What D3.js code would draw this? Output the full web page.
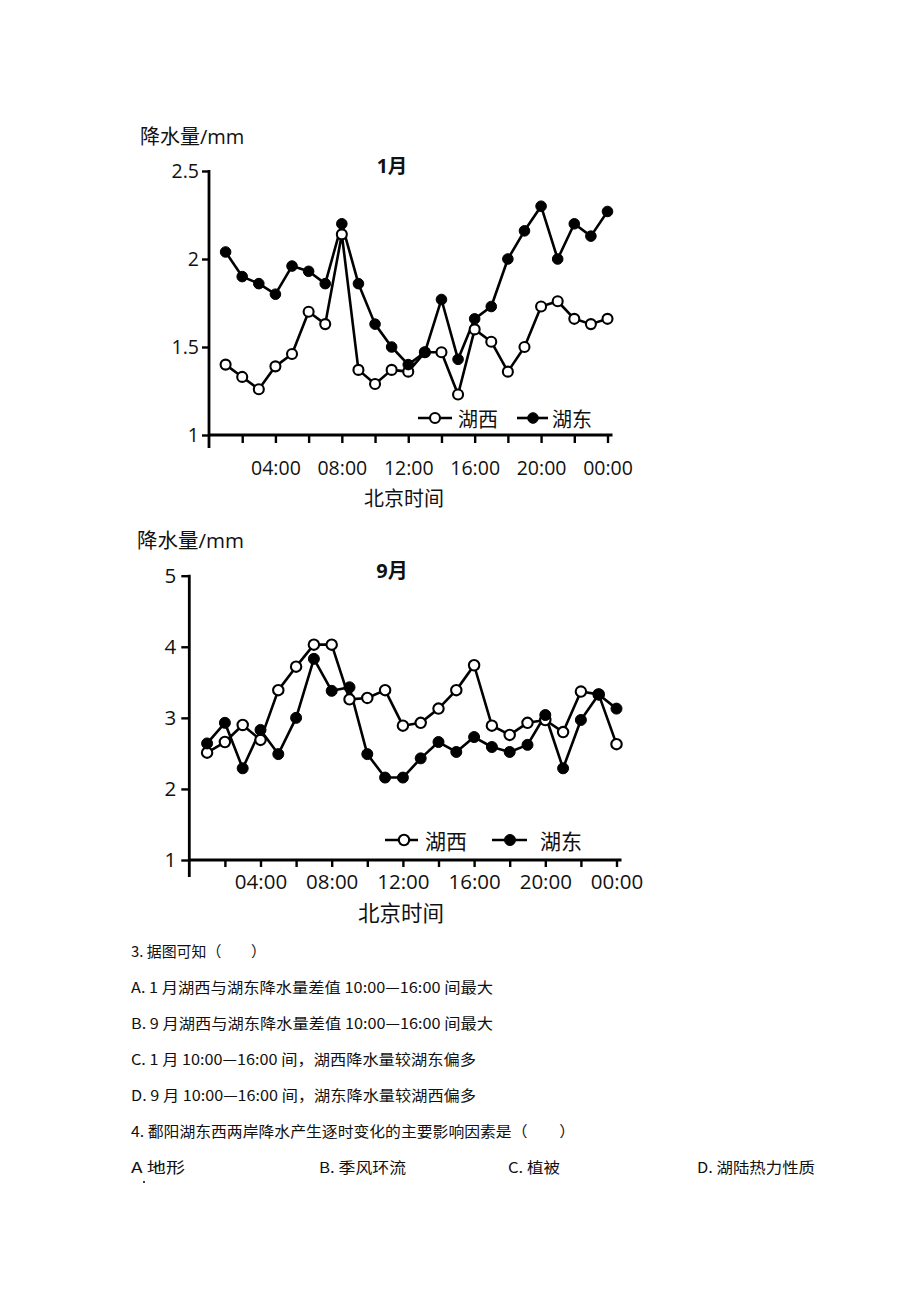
<!DOCTYPE html>
<html><head><meta charset="utf-8">
<script src="https://cdn.jsdelivr.net/npm/d3@7"></script>
<style>
body{margin:0;background:#fff;}
svg text{fill:#111;}
</style></head>
<body>
<svg id="chart" width="920" height="1302"></svg>
<script>
const hours = [1,2,3,4,5,6,7,8,9,10,11,12,13,14,15,16,17,18,19,20,21,22,23,24];
const janWest = [1.40,1.33,1.26,1.39,1.46,1.70,1.63,2.14,1.37,1.29,1.37,1.36,1.47,1.47,1.23,1.60,1.53,1.36,1.50,1.73,1.76,1.66,1.63,1.66];
const janEast = [2.04,1.90,1.86,1.80,1.96,1.93,1.86,2.20,1.86,1.63,1.50,1.40,1.47,1.77,1.43,1.66,1.73,2.00,2.16,2.30,2.00,2.20,2.13,2.27];
const sepWest = [2.51,2.66,2.90,2.69,3.39,3.72,4.03,4.03,3.26,3.28,3.39,2.89,2.93,3.13,3.39,3.74,2.89,2.76,2.93,2.97,2.80,3.37,3.33,2.63];
const sepEast = [2.64,2.93,2.29,2.83,2.49,3.00,3.83,3.38,3.43,2.49,2.16,2.16,2.43,2.66,2.52,2.73,2.59,2.52,2.62,3.04,2.29,2.97,3.33,3.13];
const xTickHours = [2,4,6,8,10,12,14,16,18,20,22,24];
const xTickLabels = {4:"04:00",8:"08:00",12:"12:00",16:"16:00",20:"20:00",24:"00:00"};
const janYTicks = [1,1.5,2,2.5];
const sepYTicks = [1,2,3,4,5];
const seriesNames = ["湖西","湖东"];
const janTitle = "1月", sepTitle = "9月";
const yAxisTitle = "降水量/mm", xAxisTitle = "北京时间";
const questionLines = [
  "3. 据图可知（　　）",
  "A. 1 月湖西与湖东降水量差值 10:00—16:00 间最大",
  "B. 9 月湖西与湖东降水量差值 10:00—16:00 间最大",
  "C. 1 月 10:00—16:00 间，湖西降水量较湖东偏多",
  "D. 9 月 10:00—16:00 间，湖东降水量较湖西偏多",
  "4. 鄱阳湖东西两岸降水产生逐时变化的主要影响因素是（　　）"
];
const options = ["A  地形","B.  季风环流","C.  植被","D.  湖陆热力性质"];

const svg = d3.select("#chart");
const SANS = "'Open Sans','Noto Sans CJK SC',sans-serif";
const CJK = "'Noto Sans CJK SC','Noto Sans',sans-serif";

function drawChart(c){
  const g = svg.append("g");
  const x = d3.scaleLinear().domain([0,24]).range([c.x0, c.x24]);
  const y = d3.scaleLinear().domain([c.ymin,c.ymax]).range([c.yBottom,c.yTop]);

  const xa = d3.axisBottom(x).tickValues(xTickHours)
    .tickFormat(d => xTickLabels[d] || "").tickSize(c.xTick).tickSizeOuter(0).tickPadding(c.xPad);
  const gx = g.append("g").attr("transform",`translate(0,${c.yBottom})`).call(xa);
  gx.select(".domain").remove();
  gx.selectAll(".tick line").attr("stroke","#000").attr("stroke-width",2.4);
  gx.selectAll(".tick text").attr("font-family",SANS).attr("font-size",c.xFont).attr("fill","#111");

  const ya = d3.axisLeft(y).tickValues(c.yTicks).tickFormat(d=>String(d))
    .tickSize(c.yTickLen).tickSizeOuter(0).tickPadding(c.yPad);
  const gy = g.append("g").attr("transform",`translate(${c.x0},0)`).call(ya);
  gy.select(".domain").remove();
  gy.selectAll(".tick line").attr("stroke","#000").attr("stroke-width",2.4);
  gy.selectAll(".tick text").attr("font-family",SANS).attr("font-size",c.yFont).attr("fill","#111");

  g.append("line").attr("x1",c.x0).attr("x2",c.x0).attr("y1",c.yTop-1).attr("y2",c.yBottom+c.yExt)
    .attr("stroke","#000").attr("stroke-width",2.8);
  g.append("line").attr("x1",c.x0).attr("x2",x(24)+5).attr("y1",c.yBottom).attr("y2",c.yBottom)
    .attr("stroke","#000").attr("stroke-width",2.8);

  const line = d3.line().x((d,i)=>x(hours[i])).y(d=>y(d));
  g.append("path").datum(c.west).attr("d",line).attr("fill","none").attr("stroke","#000").attr("stroke-width",2.6).attr("stroke-linejoin","round");
  g.append("path").datum(c.east).attr("d",line).attr("fill","none").attr("stroke","#000").attr("stroke-width",2.6).attr("stroke-linejoin","round");
  g.selectAll(".w").data(c.west).enter().append("circle")
    .attr("cx",(d,i)=>x(hours[i])).attr("cy",d=>y(d)).attr("r",c.r)
    .attr("fill","#fff").attr("stroke","#000").attr("stroke-width",2.1);
  g.selectAll(".e").data(c.east).enter().append("circle")
    .attr("cx",(d,i)=>x(hours[i])).attr("cy",d=>y(d)).attr("r",c.r+0.3)
    .attr("fill","#000").attr("stroke","#000").attr("stroke-width",1);

  g.append("text").attr("x",c.ytX).attr("y",c.ytY).attr("font-family",SANS).attr("font-size",c.ytFont).text(yAxisTitle);
  g.append("text").attr("x",c.tX).attr("y",c.tY).attr("text-anchor","middle").attr("font-family",SANS)
    .attr("font-weight","bold").attr("font-size",c.tFont).text(c.title);
  g.append("text").attr("x",c.xtX).attr("y",c.xtY).attr("text-anchor","middle").attr("font-family",CJK)
    .attr("font-size",c.xtFont).text(xAxisTitle);

  c.legend.forEach((L,k)=>{
    g.append("line").attr("x1",L.l1).attr("x2",L.l2).attr("y1",c.legY).attr("y2",c.legY).attr("stroke","#000").attr("stroke-width",2.6);
    g.append("circle").attr("cx",L.m).attr("cy",c.legY).attr("r",c.r+(k?0.3:0))
      .attr("fill",k?"#000":"#fff").attr("stroke","#000").attr("stroke-width",k?1:2.1);
    g.append("text").attr("x",L.t).attr("y",c.legY).attr("dominant-baseline","central")
      .attr("font-family",CJK).attr("font-size",c.legFont).text(seriesNames[k]);
  });
}

drawChart({x0:209,x24:607.5,ymin:1,ymax:2.5,yBottom:435,yTop:171,yTicks:janYTicks,
  xTick:8,xPad:18,xFont:19.5,yTickLen:7,yPad:3,yFont:19.5,yExt:13,r:5,
  west:janWest,east:janEast,title:janTitle,
  ytX:140,ytY:144,ytFont:20,tX:392,tY:173,tFont:19.5,xtX:404,xtY:506,xtFont:20,
  legY:418,legFont:20,legend:[{l1:418,l2:452,m:435,t:458},{l1:517,l2:548,m:533,t:552}]});

drawChart({x0:189.3,x24:616.5,ymin:1,ymax:5,yBottom:860,yTop:575.7,yTicks:sepYTicks,
  xTick:7,xPad:7,xFont:20.5,yTickLen:8,yPad:5,yFont:20.5,yExt:17,r:5.2,
  west:sepWest,east:sepEast,title:sepTitle,
  ytX:137,ytY:548,ytFont:20.5,tX:392,tY:578,tFont:20,xtX:401,xtY:921,xtFont:21.5,
  legY:840,legFont:21,legend:[{l1:385,l2:418,m:404,t:425},{l1:492,l2:527,m:510,t:540}]});

const qY = [950,986,1022,1058,1094,1130];
const qW = [135,362,362,345,345,444];
const tq = svg.append("g").attr("font-family",CJK).attr("font-size",15);
questionLines.forEach((s,i)=>{
  tq.append("text").attr("x",131).attr("y",qY[i]).attr("dominant-baseline","central")
    .attr("textLength",qW[i]).attr("lengthAdjust","spacingAndGlyphs").text(s);
});
const oX = [131,319,508,697], oW=[54,87,52,118];
options.forEach((s,i)=>{
  tq.append("text").attr("x",oX[i]).attr("y",1166).attr("dominant-baseline","central")
    .attr("textLength",oW[i]).attr("lengthAdjust","spacingAndGlyphs").text(s);
});
svg.append("circle").attr("cx",144).attr("cy",1182).attr("r",1.1).attr("fill","#111");
</script>
</body></html>
